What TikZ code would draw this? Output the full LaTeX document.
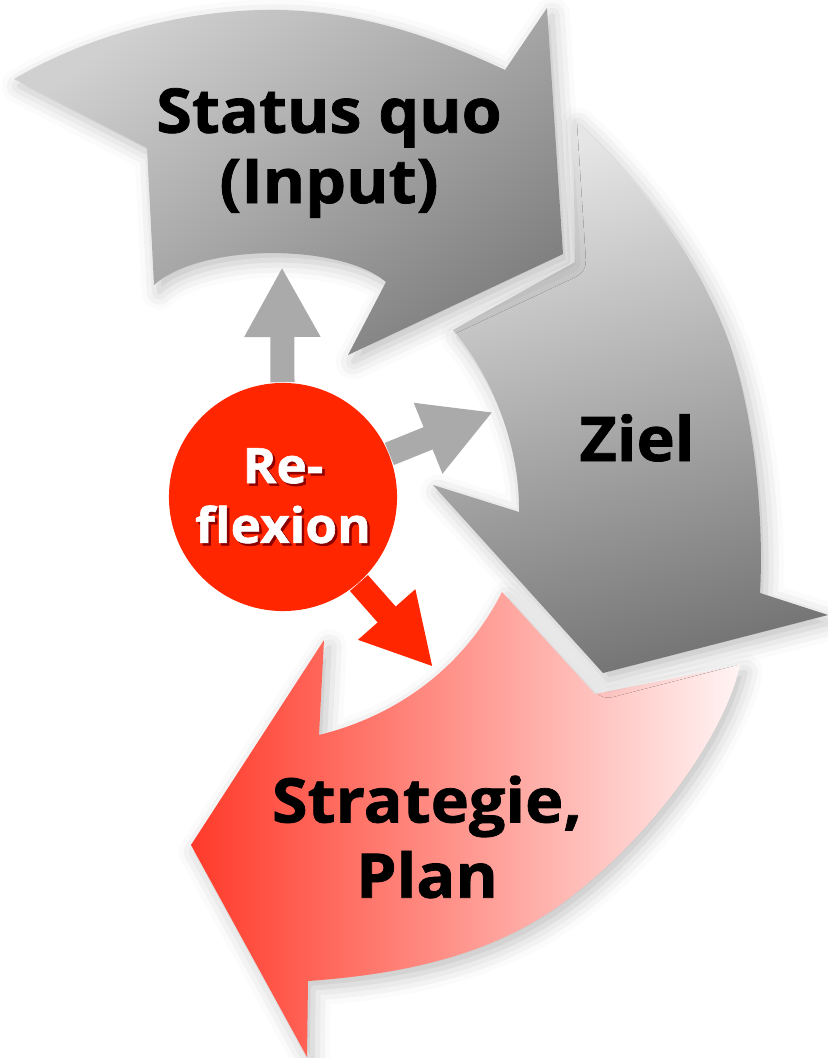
\documentclass[tikz,border=0pt]{standalone}
\usepackage{fontspec}
\setmainfont{Open Sans}[FakeStretch=1.05,BoldFeatures={FakeBold=1.2}]
\usetikzlibrary{arrows.meta,shadows.blur}
\definecolor{reflred}{RGB}{255,38,0}
\definecolor{stemgray}{RGB}{170,170,170}
\definecolor{statustop}{RGB}{208,208,208}
\definecolor{statusbot}{RGB}{128,128,128}
\definecolor{zieltop}{RGB}{230,230,230}
\definecolor{zielbot}{RGB}{118,118,118}
\definecolor{stratleft}{RGB}{255,58,42}
\definecolor{stratright}{RGB}{255,244,244}
\newcommand{\txtshadow}[1]{\leavevmode\rlap{\hspace{0.7pt}\raisebox{-0.7pt}{\color{red!55!black}#1}}#1}

\begin{document}
\begin{tikzpicture}[x=0.01cm,y=-0.01cm,
  bigarrow/.style={blur shadow={shadow xshift=1.5pt,shadow yshift=-2pt,shadow blur radius=5pt,shadow opacity=25}},
  cycletext/.style={align=center,font=\bfseries\fontsize{17.5}{20}\selectfont},
  smallarrow/.style={line width=0.24cm,-{Triangle[length=0.7cm,width=0.71cm]}}]
\useasboundingbox (0,0) rectangle (828,1058);
% Strategie, Plan
\path[bigarrow,left color=stratleft,right color=stratright] (740,665) .. controls (725,735) and (650,840) .. (560,905) .. controls (483,960) and (390,975) .. (308,981) -- (307,1057) -- (191,845) -- (324,640) -- (319,735) .. controls (400,715) and (465,665) .. (502,592) -- (595,694) -- cycle;
% Ziel
\path[bigarrow,top color=zieltop,bottom color=zielbot,shading angle=15] (573,118) .. controls (640,180) and (700,260) .. (730,345) .. controls (755,420) and (764,520) .. (760,593) -- (828,615) -- (603,673) -- (433,485) -- (519,512) .. controls (520,450) and (495,380) .. (453,330) -- (575,262) -- cycle;
% Status quo
\path[bigarrow,top color=statustop,bottom color=statusbot,shading angle=35] (14,79) .. controls (80,40) and (170,12) .. (262,10) .. controls (350,8) and (430,35) .. (505,70) -- (547,8) -- (563,254) -- (348,355) -- (386,282) .. controls (340,243) and (200,243) .. (154,285) -- (147,148) -- cycle;

\node[cycletext] (status) at (329,153) {Status quo\\(Input)};
\node[cycletext,anchor=base] (ziel) at (637,461) {Ziel};
\node[cycletext] (strat) at (427,837) {Strategie,\\[1.4pt]Plan};

\node[circle,fill=reflred,minimum size=2.28cm,inner sep=0pt,text=white,align=center,
  font=\bfseries\fontsize{13.9}{17}\selectfont] (refl) at (283,497) {\txtshadow{Re-}\\\txtshadow{flexion}};
\coordinate (toStatus) at (282,267);
\coordinate (toZiel) at (493,412);
\coordinate (toStrat) at (433,667);
\draw[smallarrow,stemgray] (refl) -- (toStatus);
\draw[smallarrow,stemgray] (refl) -- (toZiel);
\draw[smallarrow,reflred] (refl) -- (toStrat);
\end{tikzpicture}
\end{document}
